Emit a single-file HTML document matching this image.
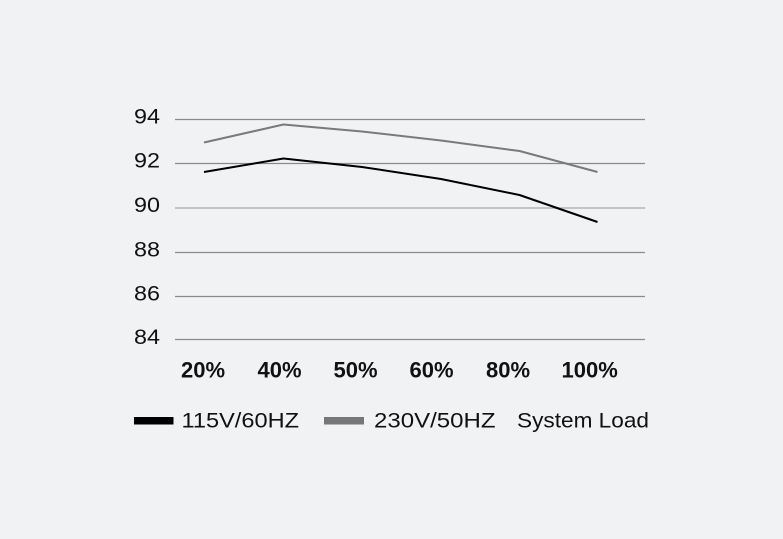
<!DOCTYPE html>
<html>
<head>
<meta charset="utf-8">
<style>
  html, body { margin: 0; padding: 0; }
  body { width: 783px; height: 539px; background: #f1f2f4; overflow: hidden; }
  svg { display: block; }
  text { font-family: "Liberation Sans", Arial, sans-serif; fill: #111; }
</style>
</head>
<body>
<svg width="783" height="539" viewBox="0 0 783 539" xmlns="http://www.w3.org/2000/svg">
  <rect x="0" y="0" width="783" height="539" fill="#f1f2f4"/>
  <!-- grid lines -->
  <g stroke-width="1.3">
    <line x1="175" y1="119.5" x2="645" y2="119.5" stroke="#8a8a8a"/>
    <line x1="175" y1="163.5" x2="645" y2="163.5" stroke="#8a8a8a"/>
    <line x1="175" y1="208" x2="645" y2="208" stroke="#bdbdbd" stroke-width="1.8"/>
    <line x1="175" y1="252.5" x2="645" y2="252.5" stroke="#8a8a8a"/>
    <line x1="175" y1="296.5" x2="645" y2="296.5" stroke="#8a8a8a"/>
    <line x1="175" y1="339.5" x2="645" y2="339.5" stroke="#8a8a8a"/>
  </g>
  <!-- y labels -->
  <g font-size="21.5">
    <text x="134" y="123.5" textLength="26" lengthAdjust="spacingAndGlyphs">94</text>
    <text x="134" y="167.5" textLength="26" lengthAdjust="spacingAndGlyphs">92</text>
    <text x="134" y="212" textLength="26" lengthAdjust="spacingAndGlyphs">90</text>
    <text x="134" y="256.5" textLength="26" lengthAdjust="spacingAndGlyphs">88</text>
    <text x="134" y="300.5" textLength="26" lengthAdjust="spacingAndGlyphs">86</text>
    <text x="134" y="343.8" textLength="26" lengthAdjust="spacingAndGlyphs">84</text>
  </g>
  <!-- series -->
  <polyline fill="none" stroke="#7a7a7a" stroke-width="2" stroke-linejoin="round"
    points="204,142.5 283.5,124.5 362,131.5 441,140.5 519.5,151 597.5,172"/>
  <polyline fill="none" stroke="#000" stroke-width="2" stroke-linejoin="round"
    points="204,172 283.5,158.5 362,167 441,179 519.5,195 597.5,222"/>
  <!-- x labels -->
  <g font-size="22" font-weight="bold">
    <text x="181" y="377.5">20%</text>
    <text x="257.5" y="377.5">40%</text>
    <text x="333.5" y="377.5">50%</text>
    <text x="409.5" y="377.5">60%</text>
    <text x="486" y="377.5">80%</text>
    <text x="561.5" y="377.5">100%</text>
  </g>
  <!-- legend -->
  <rect x="134" y="417" width="39.5" height="7.5" fill="#000"/>
  <rect x="324" y="417" width="40" height="7.5" fill="#777"/>
  <g font-size="21.5">
    <text x="181.5" y="427.5" textLength="117.5" lengthAdjust="spacingAndGlyphs">115V/60HZ</text>
    <text x="374" y="427.5" textLength="121.5" lengthAdjust="spacingAndGlyphs">230V/50HZ</text>
    <text x="517" y="427.5" textLength="132" lengthAdjust="spacingAndGlyphs">System Load</text>
  </g>
</svg>
</body>
</html>
